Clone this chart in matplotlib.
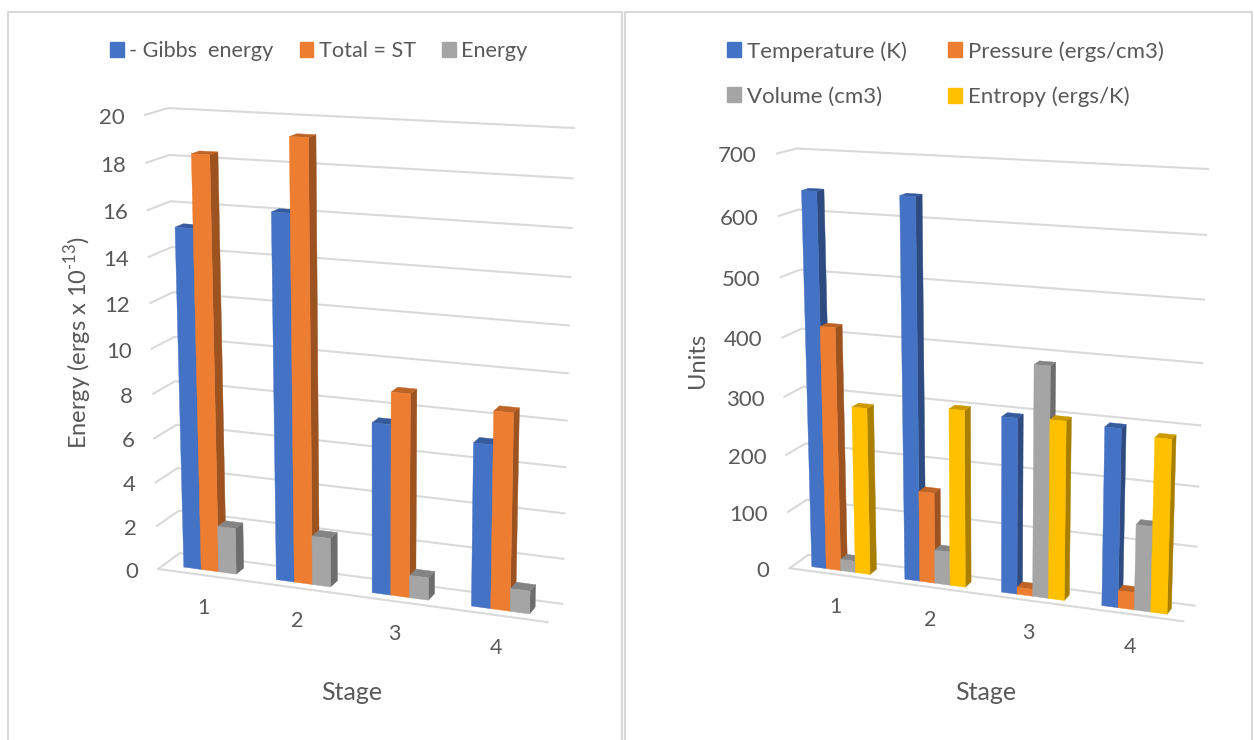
import numpy as np
import matplotlib
matplotlib.use('Agg')
import matplotlib.pyplot as plt
from matplotlib.patches import Patch, Polygon

plt.rcParams['font.family'] = ['Lato', 'DejaVu Sans']
plt.rcParams['mathtext.fontset'] = 'custom'
plt.rcParams['mathtext.rm'] = 'Lato'

# data
stages = ['1', '2', '3', '4']

gibbs = [15.22, 16.15, 7.53, 7.13]
total_st = [18.38, 19.32, 8.94, 8.57]
energy = [2.1, 2.2, 1.0, 1.0]
energy_ticks = [0, 2, 4, 6, 8, 10, 12, 14, 16, 18, 20]

temperature = [640, 641, 297, 297]
pressure = [419, 156, 12, 29]
volume = [20, 58, 387, 143]
entropy = [288, 301, 300, 288]
units_ticks = [0, 100, 200, 300, 400, 500, 600, 700]

BLUE, ORANGE, GREY, YELLOW = '#4472C4', '#ED7D31', '#A5A5A5', '#FFC000'
TEXT = '#595959'
LINE = '#D9D9D9'


def fit_camera(corners):
    # 3x4 projection from known box corners (x, depth, height) -> pixel
    rows, rhs = [], []
    for (x, y, z), (u, v) in corners:
        rows.append([x, y, z, 1, 0, 0, 0, 0, -u*x, -u*y, -u*z])
        rows.append([0, 0, 0, 0, x, y, z, 1, -v*x, -v*y, -v*z])
        rhs += [u, v]
    p = np.linalg.lstsq(np.array(rows, float), np.array(rhs, float), rcond=None)[0]
    return np.append(p, 1).reshape(3, 4)


def project(cam, x, y, z):
    u, v, w = cam @ np.array([x, y, z, 1.0])
    return u / w, v / w


def shade(colour, k):
    return np.array(matplotlib.colors.to_rgb(colour)) * k


def draw_chart(ax, corners, series, colours, ticks, group, d0=0.28, d1=0.65):
    cam = fit_camera(corners)
    top = ticks[-1]
    n_cat = len(stages)

    # gridlines on the back wall and left wall
    for t in ticks:
        z = t / top
        a = project(cam, 0, 0, z)
        b = project(cam, 0, 1, z)
        c = project(cam, n_cat, 1, z)
        ax.plot([a[0], b[0], c[0]], [a[1], b[1], c[1]], color=LINE, lw=1.5, zorder=1)
        ax.text(a[0] - 20, a[1] + 3, str(t), ha='right', va='center', color=TEXT, fontsize=16)
    a = project(cam, 0, 0, 0)
    b = project(cam, n_cat, 0, 0)
    ax.plot([a[0], b[0]], [a[1], b[1]], color=LINE, lw=1.5, zorder=1)

    # bars, left to right so each front hides the previous side face
    w = group / len(series)
    z_order = 2
    for i in range(n_cat):
        left = i + 0.5 - group / 2
        for j, (vals, col) in enumerate(zip(series, colours)):
            x0, x1 = left + j * w, left + (j + 1) * w
            z = vals[i] / top
            front = [project(cam, x0, d0, 0), project(cam, x1, d0, 0),
                     project(cam, x1, d0, z), project(cam, x0, d0, z)]
            side = [project(cam, x1, d0, 0), project(cam, x1, d1, 0),
                    project(cam, x1, d1, z), project(cam, x1, d0, z)]
            lid = [project(cam, x0, d0, z), project(cam, x1, d0, z),
                   project(cam, x1, d1, z), project(cam, x0, d1, z)]
            for poly, c in ((side, shade(col, 0.66)), (lid, shade(col, 0.8)), (front, shade(col, 1))):
                ax.add_patch(Polygon(poly, closed=True, fc=c, ec=c, lw=0.3, zorder=z_order))
            z_order += 1
        lx, ly = project(cam, i + 0.5, 0, 0)
        ax.text(lx - 0.5, ly + 33, stages[i], ha='center', va='center', color=TEXT, fontsize=15.5)


fig = plt.figure(figsize=(12.54, 7.4), dpi=100)
ax = fig.add_axes([0, 0, 1, 1])
ax.set_xlim(0, 1254)
ax.set_ylim(740, 0)
ax.axis('off')

# panel frames (open at the bottom of the crop)
ax.plot([8, 8, 622, 622], [740, 12, 12, 740], color=LINE, lw=1.5)
ax.plot([625, 625, 1252, 1252], [740, 12, 12, 740], color=LINE, lw=1.5)

left_corners = [((0, 1, 0), (180, 553)), ((4, 1, 0), (562, 604)),
                ((0, 1, 1), (168, 108)), ((4, 1, 1), (574, 128)),
                ((0, 0, 0), (158, 569)), ((4, 0, 0), (548, 622)),
                ((0, 0, 1), (145, 115))]
right_corners = [((0, 1, 0), (809, 555)), ((4, 1, 0), (1194, 606)),
                 ((0, 1, 1), (797, 148)), ((4, 1, 1), (1208, 169)),
                 ((0, 0, 0), (789, 568)), ((4, 0, 0), (1184, 621)),
                 ((0, 0, 1), (777, 154))]

draw_chart(ax, left_corners, [gibbs, total_st, energy], [BLUE, ORANGE, GREY],
           energy_ticks, 0.57)
draw_chart(ax, right_corners, [temperature, pressure, volume, entropy],
           [BLUE, ORANGE, GREY, YELLOW], units_ticks, 0.63)

ax.text(352, 693, 'Stage', ha='center', va='center', color=TEXT, fontsize=18)
ax.text(986, 693, 'Stage', ha='center', va='center', color=TEXT, fontsize=18)
ax.text(78, 342, 'Energy (ergs x 10$^{\\mathregular{\u201013}}$)', rotation=90, ha='center',
        va='center', color=TEXT, fontsize=17)
ax.text(697, 360, 'Units', rotation=90, ha='center', va='center', color=TEXT, fontsize=17)

leg_args = dict(loc='upper left', bbox_transform=ax.transData, frameon=False,
                labelcolor=TEXT, handlelength=0.64, handleheight=0.64, handletextpad=0.25,
                borderpad=0, borderaxespad=0)
fig.legend(handles=[Patch(color=BLUE, label='- Gibbs  energy'),
                    Patch(color=ORANGE, label='Total = ST'),
                    Patch(color=GREY, label='Energy')],
           ncol=3, bbox_to_anchor=(110, 41), columnspacing=1.2, fontsize=15.6, **leg_args)
fig.legend(handles=[Patch(color=BLUE, label='Temperature (K)'),
                    Patch(color=GREY, label='Volume (cm3)'),
                    Patch(color=ORANGE, label='Pressure (ergs/cm3)'),
                    Patch(color=YELLOW, label='Entropy (ergs/K)')],
           ncol=2, bbox_to_anchor=(727, 41), columnspacing=1.85, labelspacing=1.12, fontsize=16, **leg_args)

fig.savefig('out.png', dpi=100)
